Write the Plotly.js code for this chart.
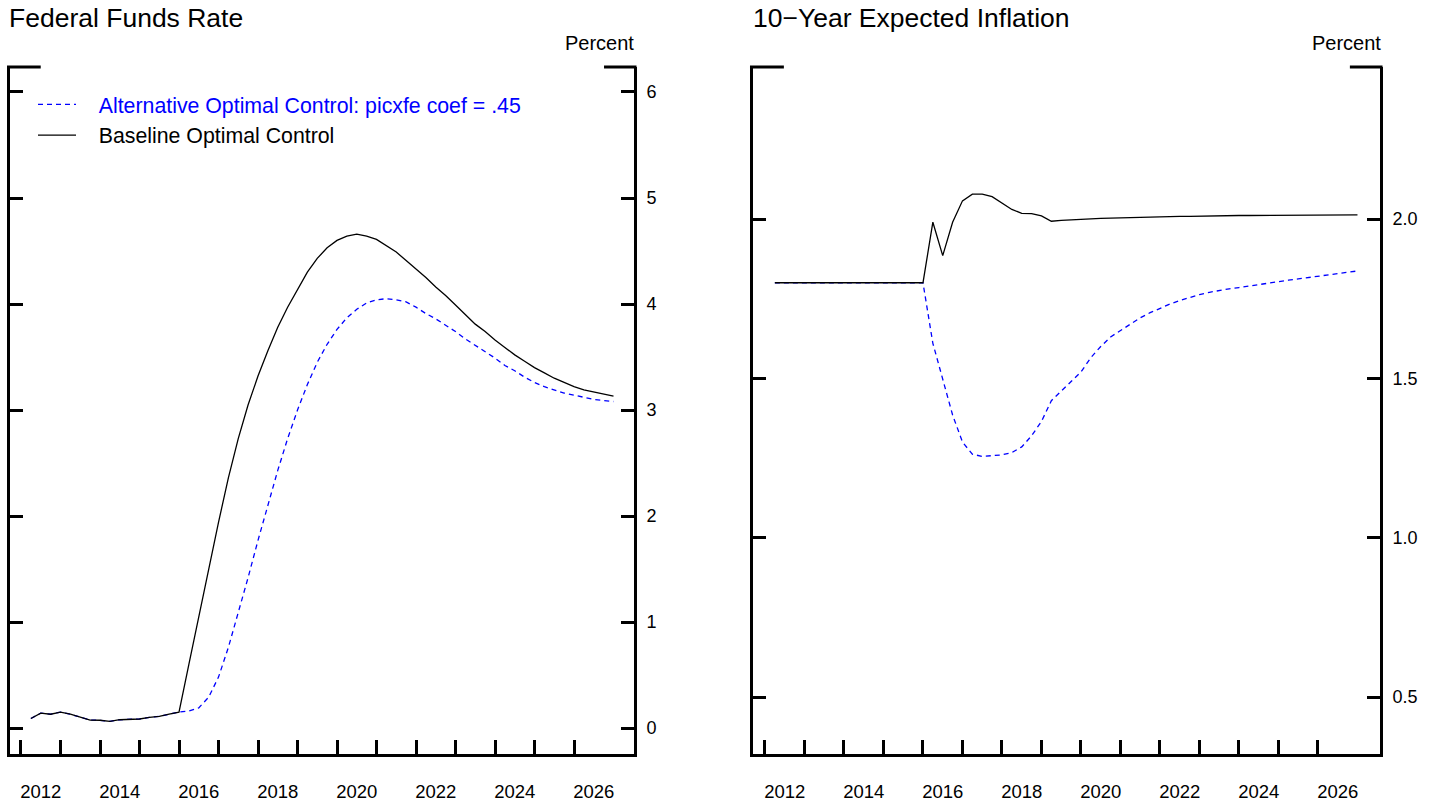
<!DOCTYPE html>
<html>
<head>
<meta charset="utf-8">
<script src="https://cdn.plot.ly/plotly-3.0.1.min.js"></script>
<style>
  html, body { margin: 0; padding: 0; background: #ffffff; }
  #chart { width: 1435px; height: 803px; }
</style>
</head>
<body>
<div id="chart"></div>
<script>
// Quarterly dates (decimal years)
const quarters = [
  2012.25, 2012.5, 2012.75, 2013.0, 2013.25, 2013.5, 2013.75, 2014.0,
  2014.25, 2014.5, 2014.75, 2015.0, 2015.25, 2015.5, 2015.75, 2016.0,
  2016.25, 2016.5, 2016.75, 2017.0, 2017.25, 2017.5, 2017.75, 2018.0,
  2018.25, 2018.5, 2018.75, 2019.0, 2019.25, 2019.5, 2019.75, 2020.0,
  2020.25, 2020.5, 2020.75, 2021.0, 2021.25, 2021.5, 2021.75, 2022.0,
  2022.25, 2022.5, 2022.75, 2023.0, 2023.25, 2023.5, 2023.75, 2024.0,
  2024.25, 2024.5, 2024.75, 2025.0, 2025.25, 2025.5, 2025.75, 2026.0,
  2026.25, 2026.5, 2026.75, 2027.0
];

// Federal Funds Rate — Baseline Optimal Control
const ffBaseline = [
  0.09, 0.14, 0.13, 0.15, 0.13, 0.10, 0.075, 0.073,
  0.063, 0.078, 0.08, 0.085, 0.10, 0.11, 0.13, 0.15,
  0.60, 1.05, 1.50, 1.94, 2.36, 2.73, 3.05, 3.32,
  3.56, 3.78, 3.97, 4.14, 4.30, 4.43, 4.53, 4.60,
  4.64, 4.66, 4.64, 4.61, 4.55, 4.49, 4.41, 4.33,
  4.25, 4.16, 4.08, 3.99, 3.90, 3.81, 3.74, 3.66,
  3.59, 3.52, 3.46, 3.40, 3.35, 3.30, 3.26, 3.22,
  3.19, 3.17, 3.15, 3.13
];

// Federal Funds Rate — Alternative Optimal Control: picxfe coef = .45
const ffAlternative = [
  0.09, 0.14, 0.13, 0.15, 0.13, 0.10, 0.075, 0.073,
  0.063, 0.078, 0.08, 0.085, 0.10, 0.11, 0.13, 0.15,
  0.16, 0.19, 0.29, 0.48, 0.76, 1.08, 1.42, 1.77,
  2.11, 2.43, 2.73, 3.00, 3.24, 3.45, 3.62, 3.76,
  3.87, 3.95, 4.01, 4.04, 4.05, 4.04, 4.02, 3.97,
  3.91, 3.86, 3.80, 3.74, 3.67, 3.61, 3.55, 3.49,
  3.42, 3.37, 3.31, 3.26, 3.22, 3.19, 3.16, 3.14,
  3.12, 3.10, 3.09, 3.08
];

// 10-Year Expected Inflation — Baseline Optimal Control
const infBaseline = [
  1.80, 1.80, 1.80, 1.80, 1.80, 1.80, 1.80, 1.80,
  1.80, 1.80, 1.80, 1.80, 1.80, 1.80, 1.80, 1.80,
  1.99, 1.885, 1.99, 2.057, 2.078, 2.078, 2.07, 2.05,
  2.03, 2.018, 2.017, 2.01, 1.993, 1.996, 1.998, 2.000,
  2.001, 2.002, 2.003, 2.004, 2.005, 2.005, 2.006, 2.007,
  2.007, 2.008, 2.008, 2.009, 2.009, 2.010, 2.010, 2.011,
  2.011, 2.011, 2.012, 2.012, 2.012, 2.012, 2.013, 2.013,
  2.013, 2.013, 2.013, 2.013
];

// 10-Year Expected Inflation — Alternative Optimal Control
const infAlternative = [
  1.80, 1.80, 1.80, 1.80, 1.80, 1.80, 1.80, 1.80,
  1.80, 1.80, 1.80, 1.80, 1.80, 1.80, 1.80, 1.80,
  1.61, 1.50, 1.385, 1.30, 1.262, 1.255, 1.257, 1.26,
  1.267, 1.285, 1.32, 1.365, 1.43, 1.46, 1.49, 1.52,
  1.565, 1.60, 1.63, 1.65, 1.672, 1.69, 1.706, 1.72,
  1.733, 1.744, 1.754, 1.763, 1.77, 1.776, 1.781, 1.785,
  1.79, 1.795, 1.80, 1.803, 1.808, 1.812, 1.816, 1.82,
  1.825, 1.829, 1.833, 1.837
];

const yearTicks = [2012, 2013, 2014, 2015, 2016, 2017, 2018, 2019, 2020, 2021, 2022, 2023, 2024, 2025, 2026];
const yearLabelPos = [2012.5, 2014.5, 2016.5, 2018.5, 2020.5, 2022.5, 2024.5, 2026.5];
const yearLabels = ['2012', '2014', '2016', '2018', '2020', '2022', '2024', '2026'];
const ffTicks = [0, 1, 2, 3, 4, 5, 6];
const infTicks = [0.5, 1.0, 1.5, 2.0];

const panelTitles = ['Federal Funds Rate', '10\u2212Year Expected Inflation'];
const unitLabel = 'Percent';
const seriesNames = ['Alternative Optimal Control: picxfe coef = .45', 'Baseline Optimal Control'];

const FONT = 'Liberation Sans, Arial, sans-serif';
const BLUE = '#0000ff';
const W = 1435, H = 803;
const GAP = '\u00a0\u00a0\u00a0';

const traces = [
  { x: quarters, y: ffAlternative, xaxis: 'x', yaxis: 'y', type: 'scatter', mode: 'lines',
    name: GAP + '<span style="color:#0000ff">' + seriesNames[0] + '</span>',
    line: { color: BLUE, width: 1.3, dash: '5px,4px' }, showlegend: true },
  { x: quarters, y: ffBaseline, xaxis: 'x', yaxis: 'y', type: 'scatter', mode: 'lines',
    name: GAP + seriesNames[1],
    line: { color: '#000000', width: 1.3 }, showlegend: true },
  { x: quarters, y: infAlternative, xaxis: 'x2', yaxis: 'y2', type: 'scatter', mode: 'lines',
    name: seriesNames[0], line: { color: BLUE, width: 1.3, dash: '5px,4px' }, showlegend: false },
  { x: quarters, y: infBaseline, xaxis: 'x2', yaxis: 'y2', type: 'scatter', mode: 'lines',
    name: seriesNames[1], line: { color: '#000000', width: 1.3 }, showlegend: false }
];

const yDomain = [1 - 753.5 / H, 1 - 67 / H];

function xAxis(domain, range) {
  return {
    domain: domain, range: range, fixedrange: true,
    tickmode: 'array', tickvals: yearLabelPos, ticktext: yearLabels,
    ticks: '', showgrid: false, zeroline: false,
    showline: true, linewidth: 3, linecolor: '#000000',
    tickfont: { family: FONT, size: 18.5, color: '#000000' },
    ticklabelstandoff: 19,
    minor: { tickmode: 'array', tickvals: yearTicks, ticks: 'inside', ticklen: 14, tickwidth: 3, tickcolor: '#000000', showgrid: false }
  };
}
function yAxis(domain, range, ticks, fmt, anchor) {
  return {
    domain: domain, range: range, fixedrange: true, anchor: anchor,
    side: 'right', tickmode: 'array', tickvals: ticks, tickformat: fmt,
    ticks: 'inside', ticklen: 13, tickwidth: 3, tickcolor: '#000000',
    mirror: 'ticks', showline: true, linewidth: 3, linecolor: '#000000',
    showgrid: false, zeroline: false,
    tickfont: { family: FONT, size: 18, color: '#000000' },
    ticklabelstandoff: 6
  };
}

const stub = (xr, yr, a, b) => ({ type: 'line', xref: xr, yref: yr, x0: a, x1: b, y0: 1, y1: 1, line: { color: '#000000', width: 3 } });

const layout = {
  width: W, height: H,
  margin: { l: 0, r: 0, t: 0, b: 0 },
  paper_bgcolor: '#ffffff', plot_bgcolor: '#ffffff',
  font: { family: FONT, color: '#000000' },
  xaxis: Object.assign(xAxis([9.5 / W, 634 / W], [2011.709, 2027.519]), { anchor: 'y' }),
  yaxis: yAxis(yDomain, [-0.2406, 6.2358], ffTicks, 'd', 'x'),
  xaxis2: Object.assign(xAxis([752.5 / W, 1380 / W], [2011.684, 2027.570]), { anchor: 'y2' }),
  yaxis2: yAxis(yDomain, [0.3229, 2.477], infTicks, '.1f', 'x2'),
  showlegend: true,
  legend: {
    x: 33 / W, y: 1 - 84 / H, xanchor: 'left', yanchor: 'top',
    bgcolor: 'rgba(0,0,0,0)', borderwidth: 0,
    font: { family: FONT, size: 21.3, color: '#000000' },
    itemwidth: 38, traceorder: 'normal'
  },
  shapes: [
    stub('x domain', 'y domain', -0.004, 0.05),
    stub('x domain', 'y domain', 0.952, 1.004),
    stub('x2 domain', 'y2 domain', -0.004, 0.05),
    stub('x2 domain', 'y2 domain', 0.952, 1.004)
  ],
  annotations: [
    { text: panelTitles[0], xref: 'paper', yref: 'paper', x: 7 / W, y: 1 - 18 / H, xanchor: 'left', yanchor: 'middle', showarrow: false, font: { family: FONT, size: 26.5, color: '#000000' } },
    { text: panelTitles[1], xref: 'paper', yref: 'paper', x: 751 / W, y: 1 - 18 / H, xanchor: 'left', yanchor: 'middle', showarrow: false, font: { family: FONT, size: 26.5, color: '#000000' } },
    { text: unitLabel, xref: 'x domain', yref: 'paper', x: 1.004, y: 1 - 43 / H, xanchor: 'right', yanchor: 'middle', showarrow: false, font: { family: FONT, size: 20, color: '#000000' } },
    { text: unitLabel, xref: 'x2 domain', yref: 'paper', x: 1.004, y: 1 - 43 / H, xanchor: 'right', yanchor: 'middle', showarrow: false, font: { family: FONT, size: 20, color: '#000000' } }
  ]
};

Plotly.newPlot('chart', traces, layout, { displayModeBar: false, staticPlot: true });
</script>
</body>
</html>
